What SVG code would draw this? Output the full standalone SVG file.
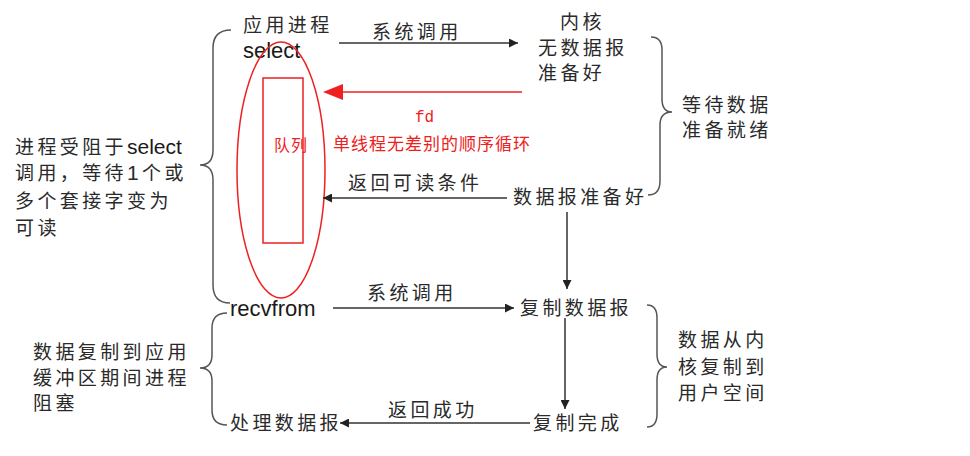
<svg xmlns="http://www.w3.org/2000/svg" width="970" height="456" viewBox="0 0 970 456">
<style>
.t{font-family:"Noto Sans CJK SC","Liberation Sans",sans-serif;font-size:19px;letter-spacing:3.4px;fill:#2a2a2a}
.l{font-family:"Liberation Sans","Noto Sans CJK SC",sans-serif;font-size:22px;fill:#1a1a1a}
.r{font-family:"Noto Sans CJK SC",sans-serif;font-size:17px;letter-spacing:1px;fill:#ee2020}
.m{font-family:"Liberation Mono",monospace;font-size:16px;fill:#ee2020}
.ln{stroke:#333;stroke-width:1.5;fill:none}
.br{stroke:#555;stroke-width:1.5;fill:none}
.red{stroke:#ee2020;stroke-width:1.5;fill:none}
</style>
<defs>
<marker id="ah" viewBox="0 0 10 10" refX="10" refY="5" markerWidth="9" markerHeight="9" markerUnits="userSpaceOnUse" orient="auto">
<path d="M0,0 L10,5 L0,10 z" fill="#222"/>
</marker>
</defs>
<rect width="970" height="456" fill="#fff"/>

<g id="app-process">
<text class="t" x="243" y="32">应用进程</text>
<text class="l" x="243" y="58">select</text>
</g>
<g id="kernel">
<text class="t" x="560" y="29">内核</text>
<text class="t" x="538" y="54.5">无数据报</text>
<text class="t" x="538" y="80">准备好</text>
</g>
<g id="wait-data">
<path class="br" d="M651,37 Q662,37 662,50 L662,99 Q662,112 672,112 Q660,112 660,125 L660,181 Q660,195 648,195"/>
<text class="t" x="682" y="112">等待数据</text>
<text class="t" x="682" y="137">准备就绪</text>
</g>
<g id="queue">
<ellipse class="red" cx="281" cy="170" rx="44" ry="128"/>
<rect class="red" x="263" y="78" width="40" height="165"/>
<text class="r" x="274" y="151" style="font-size:16px">队列</text>
</g>
<g id="fd-loop">
<text class="m" x="415" y="122">fd</text>
<text class="r" x="333" y="150">单线程无差别的顺序循环</text>
</g>
<g id="blocked-select">
<path class="br" d="M231,30 Q213,30 213,48 L213,150 Q213,165 200,165 Q213,165 213,180 L213,285 Q213,303 230,303"/>
<text class="t" x="15" y="154">进程受阻于<tspan class="l" style="font-size:21px;letter-spacing:0">select</tspan></text>
<text class="t" x="15" y="180">调用，等待<tspan style="font-family:'Liberation Sans',sans-serif;font-size:21px">1</tspan>个或</text>
<text class="t" x="15" y="208">多个套接字变为</text>
<text class="t" x="15" y="235">可读</text>
</g>
<g id="datagram-ready">
<text class="t" x="513" y="204">数据报准备好</text>
</g>
<g id="recvfrom">
<text class="l" x="230" y="316">recvfrom</text>
</g>
<g id="copy-datagram">
<text class="t" x="520" y="315">复制数据报</text>
</g>
<g id="copy-done">
<text class="t" x="533" y="430">复制完成</text>
</g>
<g id="process-datagram">
<text class="t" x="230" y="430">处理数据报</text>
</g>
<g id="copy-to-user">
<path class="br" d="M647,305 Q657,305 657,318 L657,354 Q657,367 667,367 Q657,367 657,380 L657,414 Q657,427 647,427"/>
<text class="t" x="678" y="347">数据从内</text>
<text class="t" x="678" y="374">核复制到</text>
<text class="t" x="678" y="400">用户空间</text>
</g>
<g id="blocked-copy">
<path class="br" d="M227,313 Q212,313 212,328 L212,355 Q212,368 200,368 Q212,368 212,381 L212,410 Q212,425 227,425"/>
<text class="t" x="33" y="359">数据复制到应用</text>
<text class="t" x="33" y="385">缓冲区期间进程</text>
<text class="t" x="33" y="410">阻塞</text>
</g>

<g id="connectors">
<line class="ln" x1="339" y1="43" x2="518" y2="43" marker-end="url(#ah)"/>
<text class="t" x="372" y="39">系统调用</text>
<line class="red" x1="522" y1="92" x2="340" y2="92"/>
<polygon points="323,92 343,84 343,100" fill="#ee2020"/>
<line class="ln" x1="507" y1="198" x2="323" y2="198" marker-end="url(#ah)"/>
<text class="t" x="348" y="190">返回可读条件</text>
<line class="ln" x1="567" y1="212" x2="567" y2="289" marker-end="url(#ah)"/>
<line class="ln" x1="333" y1="308" x2="514" y2="308" marker-end="url(#ah)"/>
<text class="t" x="367" y="300">系统调用</text>
<line class="ln" x1="565" y1="318" x2="565" y2="409" marker-end="url(#ah)"/>
<line class="ln" x1="530" y1="423" x2="340" y2="423" marker-end="url(#ah)"/>
<text class="t" x="388" y="417">返回成功</text>
</g>
</svg>
